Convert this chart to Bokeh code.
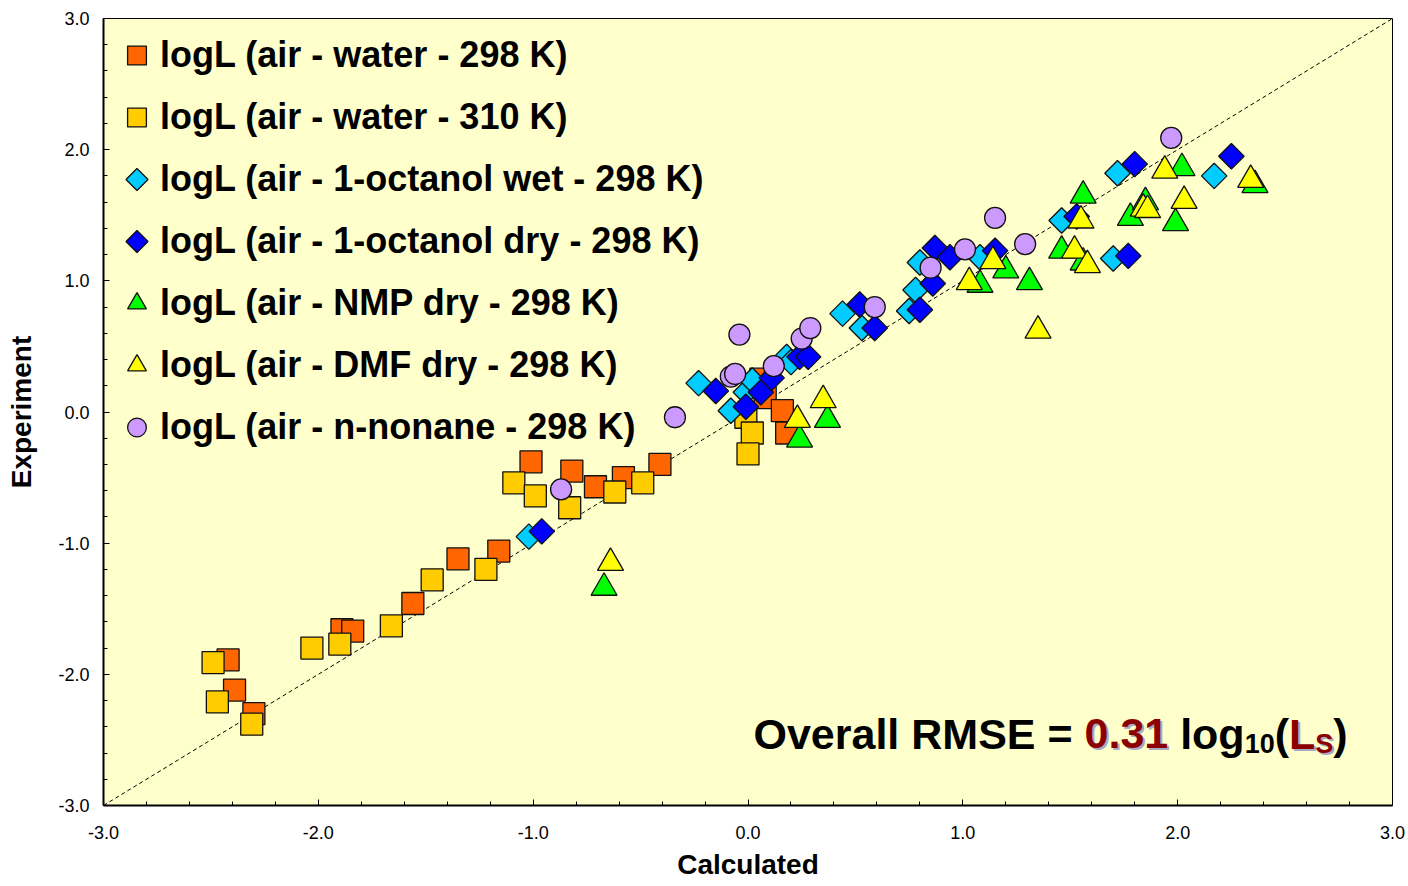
import math
from bokeh.plotting import figure
from bokeh.models import (Range1d, FixedTicker, PrintfTickFormatter, Legend, LegendItem, Label,
                          PolyAnnotation)
from bokeh.embed import file_html
from bokeh.resources import INLINE

# ---------------- data (calculated vs experiment, log10 units) ----------------
water298_calc = [-2.42, -2.39, -2.30, -1.89, -1.84, -1.56, -1.35, -1.16, -1.01, -0.82, -0.71, -0.58, -0.41, 0.06, 0.08, 0.16, 0.18]
water298_exp = [-1.89, -2.12, -2.30, -1.66, -1.67, -1.46, -1.12, -1.06, -0.38, -0.45, -0.57, -0.50, -0.40, 0.25, 0.11, 0.01, -0.16]

water310_calc = [-2.49, -2.47, -2.31, -2.03, -1.90, -1.66, -1.47, -1.22, -1.09, -0.99, -0.83, -0.62, -0.49, -0.01, 0.02, 0.00]
water310_exp = [-1.91, -2.21, -2.38, -1.80, -1.77, -1.63, -1.28, -1.20, -0.54, -0.64, -0.73, -0.61, -0.54, -0.04, -0.16, -0.32]

octwet_calc = [-1.02, -0.23, -0.08, -0.01, 0.02, 0.18, 0.20, 0.44, 0.53, 0.75, 0.78, 0.80, 1.08, 1.46, 1.70, 1.72, 2.17]
octwet_exp = [-0.95, 0.22, 0.01, 0.15, 0.24, 0.42, 0.38, 0.75, 0.64, 0.77, 0.93, 1.14, 1.18, 1.46, 1.17, 1.82, 1.80]

octdry_calc = [-0.96, -0.15, -0.01, 0.06, 0.11, 0.24, 0.28, 0.52, 0.59, 0.80, 0.86, 0.87, 0.94, 1.15, 1.53, 1.77, 1.80, 2.25]
octdry_exp = [-0.91, 0.16, 0.04, 0.15, 0.26, 0.42, 0.42, 0.82, 0.64, 0.78, 0.98, 1.25, 1.18, 1.23, 1.49, 1.19, 1.89, 1.95]

nmp_calc = [-0.67, 0.24, 0.37, 1.08, 1.20, 1.31, 1.46, 1.56, 1.56, 1.78, 1.85, 1.99, 2.02, 2.36]
nmp_exp = [-1.34, -0.21, -0.06, 0.97, 1.08, 0.99, 1.23, 1.14, 1.65, 1.48, 1.60, 1.44, 1.86, 1.73]

dmf_calc = [-0.64, 0.23, 0.35, 1.03, 1.14, 1.35, 1.52, 1.58, 1.55, 1.84, 1.86, 1.94, 2.03, 2.34]
dmf_exp = [-1.15, -0.06, 0.09, 0.99, 1.15, 0.62, 1.23, 1.12, 1.46, 1.55, 1.54, 1.84, 1.61, 1.77]

nonane_calc = [-0.87, -0.34, -0.08, -0.06, -0.04, 0.12, 0.25, 0.29, 0.59, 0.85, 1.01, 1.15, 1.29, 1.97]
nonane_exp = [-0.59, -0.04, 0.27, 0.29, 0.59, 0.35, 0.56, 0.64, 0.80, 1.10, 1.24, 1.48, 1.28, 2.09]

series_labels = [
    "logL (air - water - 298 K)",
    "logL (air - water - 310 K)",
    "logL (air - 1-octanol wet - 298 K)",
    "logL (air - 1-octanol dry - 298 K)",
    "logL (air - NMP dry - 298 K)",
    "logL (air - DMF dry - 298 K)",
    "logL (air - n-nonane - 298 K)",
]
major_ticks = [-3.0, -2.0, -1.0, 0.0, 1.0, 2.0, 3.0]
minor_ticks = [-3.0 + 0.2 * i for i in range(31)]
diag = [-3.0, 3.0]
rmse_value = "0.31"

FONT = "Liberation Sans"
FRAME_W, FRAME_H = 1289, 787

p = figure(width=1408, height=886,
           x_range=Range1d(-3, 3), y_range=Range1d(-3, 3),
           output_backend="svg", toolbar_location=None,
           min_border_left=103, min_border_right=16, min_border_top=18, min_border_bottom=81,
           background_fill_color="#FFFFCC", border_fill_color="white",
           outline_line_color="black", outline_line_width=1)
p.xgrid.visible = False
p.ygrid.visible = False

for ax, standoff, lab_standoff in ((p.xaxis[0], 20, 7), (p.yaxis[0], 14, 18)):
    ax.ticker = FixedTicker(ticks=major_ticks, minor_ticks=minor_ticks)
    ax.formatter = PrintfTickFormatter(format="%.1f")
    ax.axis_line_width = 2
    ax.axis_line_color = "black"
    ax.major_tick_in = 6
    ax.major_tick_out = 0
    ax.minor_tick_in = 4
    ax.minor_tick_out = 0
    ax.major_tick_line_color = "black"
    ax.minor_tick_line_color = "black"
    ax.major_label_text_font = FONT
    ax.major_label_text_font_size = "18px"
    ax.major_label_text_color = "black"
    ax.major_label_standoff = standoff
    ax.axis_label_text_font = FONT
    ax.axis_label_text_font_style = "bold"
    ax.axis_label_text_font_size = "28px"
    ax.axis_label_text_color = "black"
    ax.axis_label_standoff = lab_standoff

p.xaxis.axis_label = "Calculated"
p.yaxis.axis_label = "Experiment"

# 1:1 dashed line
p.line(diag, diag, line_color="black", line_width=1, line_dash="4 3")

common = dict(line_color="#111111", line_width=1.3)
r1 = p.scatter(water298_calc, water298_exp, marker="square", size=22, fill_color="#FF6600", **common)
r2 = p.scatter(water310_calc, water310_exp, marker="square", size=22, fill_color="#FFCC00", **common)
r3 = p.scatter(octwet_calc, octwet_exp, marker="square", size=18, angle=math.pi / 4, fill_color="#00CCFF", **common)
r4 = p.scatter(octdry_calc, octdry_exp, marker="square", size=18, angle=math.pi / 4, fill_color="#0000FF", **common)
r5 = p.scatter(nmp_calc, nmp_exp, marker="triangle", size=26, fill_color="#00FF00", **common)
r6 = p.scatter(dmf_calc, dmf_exp, marker="triangle", size=26, fill_color="#FFFF00", **common)
r7 = p.scatter(nonane_calc, nonane_exp, marker="circle", size=21, fill_color="#CC99FF", **common)

# legend swatch stand-ins for the diamond series (legend cannot rotate markers)
ghost_wet = p.scatter([], [], marker="square", fill_alpha=0, line_alpha=0)
ghost_dry = p.scatter([], [], marker="square", fill_alpha=0, line_alpha=0)

LEG_LEFT, LEG_TOP, GLYPH_W, GLYPH_H, SPACING = 10, 12, 47, 50, 12
n_items = len(series_labels)
legend_h = n_items * GLYPH_H + (n_items - 1) * SPACING
legend = Legend(
    items=[LegendItem(label=lab, renderers=[r]) for lab, r in
           zip(series_labels, [r1, r2, ghost_wet, ghost_dry, r5, r6, r7])],
    location=(LEG_LEFT, FRAME_H - LEG_TOP - legend_h), margin=0, padding=0, spacing=SPACING,
    glyph_width=GLYPH_W, glyph_height=GLYPH_H, label_standoff=0,
    label_text_font=FONT, label_text_font_style="bold", label_text_font_size="36px",
    label_text_color="black",
    border_line_color=None, background_fill_alpha=0,
)
p.add_layout(legend)

# diamond swatches drawn at the legend rows 3 and 4
half = 11
for row, color in ((2, "#00CCFF"), (3, "#0000FF")):
    cx = LEG_LEFT + GLYPH_W / 2
    cy = FRAME_H - (LEG_TOP + GLYPH_H / 2 + row * (GLYPH_H + SPACING))
    p.add_layout(PolyAnnotation(xs=[cx, cx + half, cx, cx - half], ys=[cy + half, cy, cy - half, cy],
                                xs_units="screen", ys_units="screen",
                                fill_color=color, fill_alpha=1.0,
                                line_color="#111111", line_alpha=1.0, line_width=1.3))

# ---------------- RMSE annotation (composed of pieces) ----------------
ARIAL_BOLD = {"O": 778, "v": 556, "e": 556, "r": 389, "a": 556, "l": 278, " ": 278, "R": 722,
              "M": 833, "S": 667, "E": 667, "=": 584, "0": 556, ".": 278, "3": 556, "1": 556,
              "o": 611, "g": 611, "(": 333, "L": 611, ")": 333}

def text_width(s, size):
    return sum(ARIAL_BOLD.get(c, 556) for c in s) * size / 1000.0

BIG, SUB = 43, 27
DARK_RED = "#8B0000"
# (text, font size, colour, baseline shift, shadow, gap before in 1/1000 em)
pieces = [
    ("Overall RMSE =", BIG, "black", 0, False, 0),
    (rmse_value, BIG, DARK_RED, 0, True, 278),
    ("log", BIG, "black", 0, False, 278),
    ("10", SUB, "black", -10, False, 0),
    ("(", BIG, "black", 0, False, 0),
    ("L", BIG, DARK_RED, 0, True, 0),
    ("S", SUB, DARK_RED, -10, True, 0),
    (")", BIG, "black", 0, False, 0),
]
xx = 650.0   # screen offset from left of the frame
base = 72.0  # screen offset from bottom of the frame
for txt, sz, col, dy, shadow, gap in pieces:
    xx += gap * sz / 1000.0
    if shadow:
        p.add_layout(Label(x=xx + 2, y=base + dy - 2, x_units="screen", y_units="screen", text=txt,
                           text_font=FONT, text_font_style="bold", text_font_size=f"{sz}px",
                           text_color="#A8A8C0", text_baseline="alphabetic", text_align="left"))
    p.add_layout(Label(x=xx, y=base + dy, x_units="screen", y_units="screen", text=txt,
                       text_font=FONT, text_font_style="bold", text_font_size=f"{sz}px",
                       text_color=col, text_baseline="alphabetic", text_align="left"))
    xx += text_width(txt, sz)

open("out.html", "w").write(file_html(p, INLINE))
